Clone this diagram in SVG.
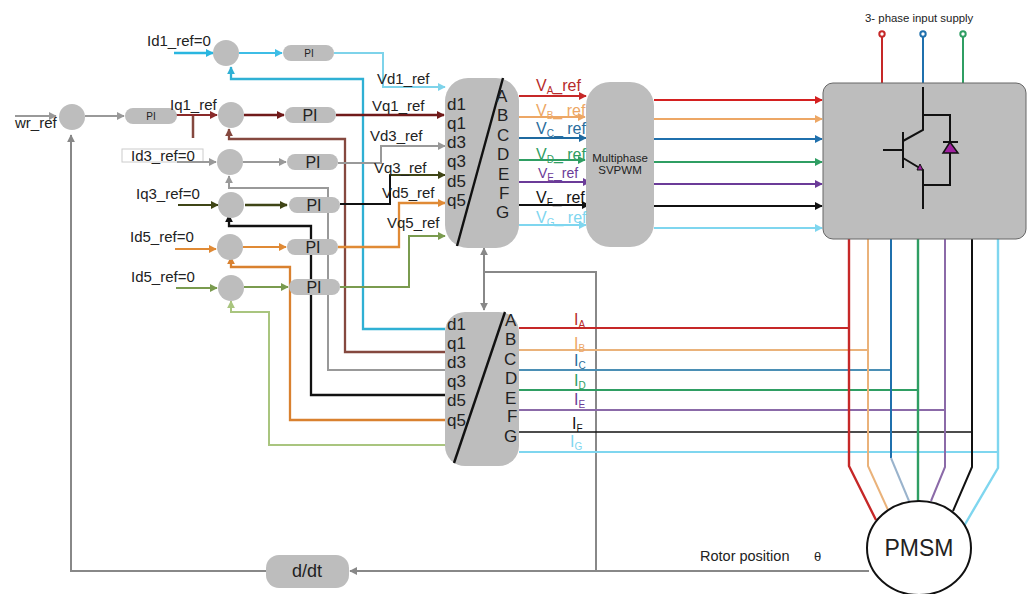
<svg xmlns="http://www.w3.org/2000/svg" width="1032" height="594" viewBox="0 0 1032 594">
<style>
text{font-family:"Liberation Sans",Arial,sans-serif;fill:#222}
.l{font-size:15px}
.b{font-size:17px}
.p{font-size:16px;fill:#222}
.g{fill:#bdbdbd}
.c{fill:none;stroke-width:2}
.t{stroke-width:2.3}
.s{font-size:10px}
.v{font-size:16px}
</style>
<defs>
<marker id="a" viewBox="0 0 10 10" refX="9" refY="5" markerWidth="8" markerHeight="8" markerUnits="userSpaceOnUse" orient="auto"><path d="M0 0L10 5L0 10z" fill="context-stroke"/></marker>
</defs>
<rect width="1032" height="594" fill="#fff"/>
<rect x="122" y="149" width="81" height="13" fill="none" stroke="#ccc" stroke-width="1"/>
<g id="connectors" class="c" marker-end="url(#a)">
<path d="M15 116H56" stroke="#999" marker-end="url(#a)"/>
<path d="M85 116H124" stroke="#999" marker-end="url(#a)"/>
<path d="M71 572V135" stroke="#888" marker-end="url(#a)"/>
<path d="M174 53H213" stroke="#29b6e0" class="c t" marker-end="url(#a)"/>
<path d="M239 53H282" stroke="#3dbde6" marker-end="url(#a)"/>
<path d="M334 53H383V87H445" stroke="#7ed3ea" marker-end="url(#a)"/>
<path d="M445 329H363V79H231V67" stroke="#2fb0d4" class="c t" marker-end="url(#a)"/>
<path d="M176 115H217" stroke="#8a2a2a" marker-end="url(#a)"/>
<path d="M244 115H284" stroke="#701a1a" class="c t" marker-end="url(#a)"/>
<path d="M336 115H444" stroke="#701a1a" class="c t" marker-end="url(#a)"/>
<path d="M445 352H345V139H229V129" stroke="#85483f" class="c t" marker-end="url(#a)"/>
<path d="M177 162H216" stroke="#999" marker-end="url(#a)"/>
<path d="M243 162H286" stroke="#999" marker-end="url(#a)"/>
<path d="M338 163H381V146H445" stroke="#999" marker-end="url(#a)"/>
<path d="M445 370H328V188H229V176" stroke="#999" class="c" marker-end="url(#a)"/>
<path d="M178 205H218" stroke="#3f4516" marker-end="url(#a)"/>
<path d="M245 205H287" stroke="#3f4516" class="c t" marker-end="url(#a)"/>
<path d="M340 204H390V175H445" stroke="#3f4516" marker-end="url(#a)"/>
<path d="M340 204H390V175" stroke="#111" marker-end="none"/>
<path d="M445 395H311V226H229V215" stroke="#111" class="c t" marker-end="url(#a)"/>
<path d="M175 249H216" stroke="#e08a35" marker-end="url(#a)"/>
<path d="M243 247H286" stroke="#e08a35" marker-end="url(#a)"/>
<path d="M338 247H399V203H445" stroke="#e08a35" class="c t" marker-end="url(#a)"/>
<path d="M445 420H290V267H231V257" stroke="#d9812f" class="c t" marker-end="url(#a)"/>
<path d="M176 288H217" stroke="#7a9b4f" marker-end="url(#a)"/>
<path d="M244 287H288" stroke="#7a9b4f" marker-end="url(#a)"/>
<path d="M340 287H409V236H445" stroke="#7a9b4f" marker-end="url(#a)"/>
<path d="M445 445H269V312H231V301" stroke="#a9c57f" marker-end="url(#a)"/>
<path d="M519 96H586" stroke="#c62828" marker-end="url(#a)"/>
<path d="M519 117H585" stroke="#eda765" marker-end="url(#a)"/>
<path d="M519 138H586" stroke="#1f6aa0" marker-end="url(#a)"/>
<path d="M519 160H585" stroke="#2f9e63" marker-end="url(#a)"/>
<path d="M519 182H590" stroke="#6b3b98" marker-end="url(#a)"/>
<path d="M517 205H589" stroke="#111" marker-end="url(#a)"/>
<path d="M519 225H586" stroke="#7fd6ef" marker-end="url(#a)"/>
<path d="M654 100H822" stroke="#d42020" marker-end="url(#a)"/>
<path d="M654 119H822" stroke="#eda765" marker-end="url(#a)"/>
<path d="M654 139H822" stroke="#1f70ad" marker-end="url(#a)"/>
<path d="M654 162H822" stroke="#2f9e63" marker-end="url(#a)"/>
<path d="M654 184H822" stroke="#6b3b98" marker-end="url(#a)"/>
<path d="M652 206H822" stroke="#111" marker-end="url(#a)"/>
<path d="M654 228H822" stroke="#7fd6ef" marker-end="url(#a)"/>
<path d="M484 249V310" stroke="#888" marker-end="url(#a)"/>
<path d="M484 295V248" stroke="#888" marker-end="url(#a)"/>
<path d="M484 272H596V571" stroke="#888" marker-end="none"/>
<path d="M869 571H350" stroke="#888" marker-end="url(#a)"/>
<path d="M266 571H71" stroke="#888" marker-end="none"/>
<g marker-end="none">
<path d="M193 116V138" stroke="#85483f" stroke-width="2.5"/>
<path d="M882 34V84" stroke="#c62828"/>
<path d="M923 34V84" stroke="#1f70ad"/>
<path d="M963 34V84" stroke="#2f9e63"/>
<path d="M519 328H849" stroke="#c62828"/>
<path d="M519 350H868" stroke="#eab27a"/>
<path d="M519 370H891" stroke="#4b8fb5"/>
<path d="M519 390H918" stroke="#2f9e63"/>
<path d="M519 410H945" stroke="#8b6aa8"/>
<path d="M513 432H972" stroke="#111" stroke-width="1.5"/>
<path d="M519 452H998" stroke="#7fd6ef"/>
<path d="M849 239V466L876 520" stroke="#c62828" stroke-width="2.4"/>
<path d="M868 239V466L888 510" stroke="#eab27a"/>
<path d="M891 239V458" stroke="#1f70ad"/>
<path d="M891 458L909 501" stroke="#9ab3cc"/>
<path d="M918 239V501" stroke="#2f9e63" stroke-width="2.4"/>
<path d="M945 239V467L931 501" stroke="#8b6aa8"/>
<path d="M972 238V467L953 511" stroke="#111"/>
<path d="M998 239V468L964 526" stroke="#7fd6ef" stroke-width="2.4"/>
</g>
</g>
<g id="sum-w"><circle class="g" cx="72" cy="117" r="13"/></g>
<g id="sum-d1"><circle class="g" cx="226" cy="53" r="13"/></g>
<g id="sum-q1"><circle class="g" cx="231" cy="115" r="13"/></g>
<g id="sum-d3"><circle class="g" cx="230" cy="162" r="13"/></g>
<g id="sum-q3"><circle class="g" cx="231" cy="205" r="13"/></g>
<g id="sum-d5"><circle class="g" cx="230" cy="247" r="13"/></g>
<g id="sum-q5"><circle class="g" cx="231" cy="288" r="13"/></g>
<g id="pi-w"><rect class="g" x="125" y="108" width="52" height="16" rx="8"/><text x="151" y="120" text-anchor="middle" style="font-size:10px">PI</text></g>
<g id="pi-d1"><rect class="g" x="283" y="45" width="51" height="16" rx="8"/><text x="309" y="57" text-anchor="middle" style="font-size:10px">PI</text></g>
<g id="pi-q1"><rect class="g" x="285" y="107" width="51" height="16" rx="8"/><text x="310" y="121" text-anchor="middle" class="p">PI</text></g>
<g id="pi-d3"><rect class="g" x="287" y="154" width="51" height="16" rx="8"/><text x="313" y="168" text-anchor="middle" class="p">PI</text></g>
<g id="pi-q3"><rect class="g" x="289" y="197" width="51" height="16" rx="8"/><text x="314" y="211" text-anchor="middle" class="p">PI</text></g>
<g id="pi-d5"><rect class="g" x="287" y="239" width="51" height="16" rx="8"/><text x="313" y="253" text-anchor="middle" class="p">PI</text></g>
<g id="pi-q5"><rect class="g" x="289" y="279" width="51" height="16" rx="8"/><text x="314" y="293" text-anchor="middle" class="p">PI</text></g>
<g id="transform-top">
<rect class="g" x="445" y="78" width="74" height="170" rx="23"/>
<path d="M503 78L457 246" stroke="#111" stroke-width="2.4"/>
<g class="b"><text x="447" y="110">d1</text><text x="447" y="129">q1</text><text x="447" y="148">d3</text><text x="447" y="167">q3</text><text x="447" y="187">d5</text><text x="447" y="206">q5</text>
<text x="496" y="102">A</text><text x="497" y="121">B</text><text x="497" y="141">C</text><text x="497" y="160">D</text><text x="498" y="180">E</text><text x="499" y="199">F</text><text x="496" y="218">G</text></g>
</g>
<g id="transform-bottom">
<rect class="g" x="445" y="312" width="74" height="154" rx="20"/>
<path d="M505 312L454 463" stroke="#111" stroke-width="2.4"/>
<g class="b"><text x="447" y="330">d1</text><text x="447" y="349">q1</text><text x="447" y="368">d3</text><text x="447" y="387">q3</text><text x="447" y="406">d5</text><text x="447" y="426">q5</text>
<text x="505" y="326">A</text><text x="505" y="345">B</text><text x="504" y="365">C</text><text x="505" y="384">D</text><text x="505" y="404">E</text><text x="507" y="422">F</text><text x="504" y="442">G</text></g>
</g>
<g id="svpwm"><rect class="g" x="586" y="82" width="68" height="165" rx="24"/>
<text x="620" y="162" text-anchor="middle" style="font-size:11.5px">Multiphase</text><text x="620" y="174" text-anchor="middle" style="font-size:11.5px">SVPWM</text></g>
<g id="inverter">
<rect class="g" x="823" y="83" width="203" height="156" rx="10" stroke="#666" stroke-width="1"/>
<g fill="none" stroke="#111" stroke-width="2">
<path d="M923 87V130L903 141M903 132V168M883 150H903M903 158L923 170V209"/>
<path d="M923 115H950V185H923"/>
<path d="M943 142H958"/>
</g>
<path d="M950 142L943 153H958z" fill="#a020a0" stroke="#111" stroke-width="1.5"/>
<path d="M923 170L917 170L920 164z" fill="#a020a0" stroke="#111" stroke-width="1"/>
</g>
<g id="terminals" fill="#fff" stroke-width="2">
<circle cx="882" cy="34" r="2.7" stroke="#c62828"/><circle cx="923" cy="34" r="2.7" stroke="#1f70ad"/><circle cx="963" cy="34" r="2.7" stroke="#2f9e63"/>
</g>
<g id="ddt"><rect class="g" x="266" y="555" width="83" height="33" rx="13"/><text x="307" y="577" text-anchor="middle" style="font-size:18px">d/dt</text></g>
<g id="pmsm"><ellipse cx="919" cy="548" rx="52" ry="47" fill="#fff" stroke="#111" stroke-width="2"/><text x="919" y="556" text-anchor="middle" style="font-size:23px">PMSM</text></g>
<g class="l">
<text x="147" y="46">Id1_ref=0</text>
<text x="15" y="128">wr_ref</text>
<text x="170" y="110">Iq1_ref</text>
<text x="131" y="161">Id3_ref=0</text>
<text x="136" y="199">Iq3_ref=0</text>
<text x="130" y="242">Id5_ref=0</text>
<text x="131" y="282">Id5_ref=0</text>
<text x="377" y="84">Vd1_ref</text>
<text x="372" y="111">Vq1_ref</text>
<text x="370" y="141">Vd3_ref</text>
<text x="374" y="173">Vq3_ref</text>
<text x="382" y="198">Vd5_ref</text>
<text x="387" y="228">Vq5_ref</text>
</g>
<g class="v">
<text x="536" y="91" style="fill:#b72a2a">V<tspan class="s" dy="3">A</tspan><tspan dy="-3">_ref</tspan></text>
<text x="536" y="116" style="fill:#eda765">V<tspan class="s" dy="3">B</tspan><tspan dy="-3">_ ref</tspan></text>
<text x="536" y="134" style="fill:#2a6d9c">V<tspan class="s" dy="3">C</tspan><tspan dy="-3">_ ref</tspan></text>
<text x="536" y="160" style="fill:#2f9e63">V<tspan class="s" dy="3">D</tspan><tspan dy="-3">_ ref</tspan></text>
<text x="538" y="178" style="fill:#6b3b98;font-size:14px">V<tspan class="s" dy="3">E</tspan><tspan dy="-3">_ref</tspan></text>
<text x="536" y="203" style="fill:#111">V<tspan class="s" dy="3">F</tspan><tspan dy="-3">_ ref</tspan></text>
<text x="536" y="223" style="fill:#7fd6ef">V<tspan class="s" dy="3">G</tspan><tspan dy="-3">_ ref</tspan></text>
<text x="574" y="325" style="fill:#b72a2a">I<tspan class="s" dy="3">A</tspan></text>
<text x="574" y="349" style="fill:#eda765">I<tspan class="s" dy="3">B</tspan></text>
<text x="574" y="366" style="fill:#2a6d9c">I<tspan class="s" dy="3">C</tspan></text>
<text x="574" y="386" style="fill:#2f9e63">I<tspan class="s" dy="3">D</tspan></text>
<text x="574" y="405" style="fill:#6b3b98">I<tspan class="s" dy="3">E</tspan></text>
<text x="572" y="429" style="fill:#111">I<tspan class="s" dy="3">F</tspan></text>
<text x="570" y="447" style="fill:#7fd6ef">I<tspan class="s" dy="3">G</tspan></text>
</g>
<text x="865" y="22" style="font-size:11.4px">3- phase input supply</text>
<text x="700" y="561" style="font-size:14.5px">Rotor position</text>
<text x="814" y="561" style="font-size:13px">θ</text>
</svg>
